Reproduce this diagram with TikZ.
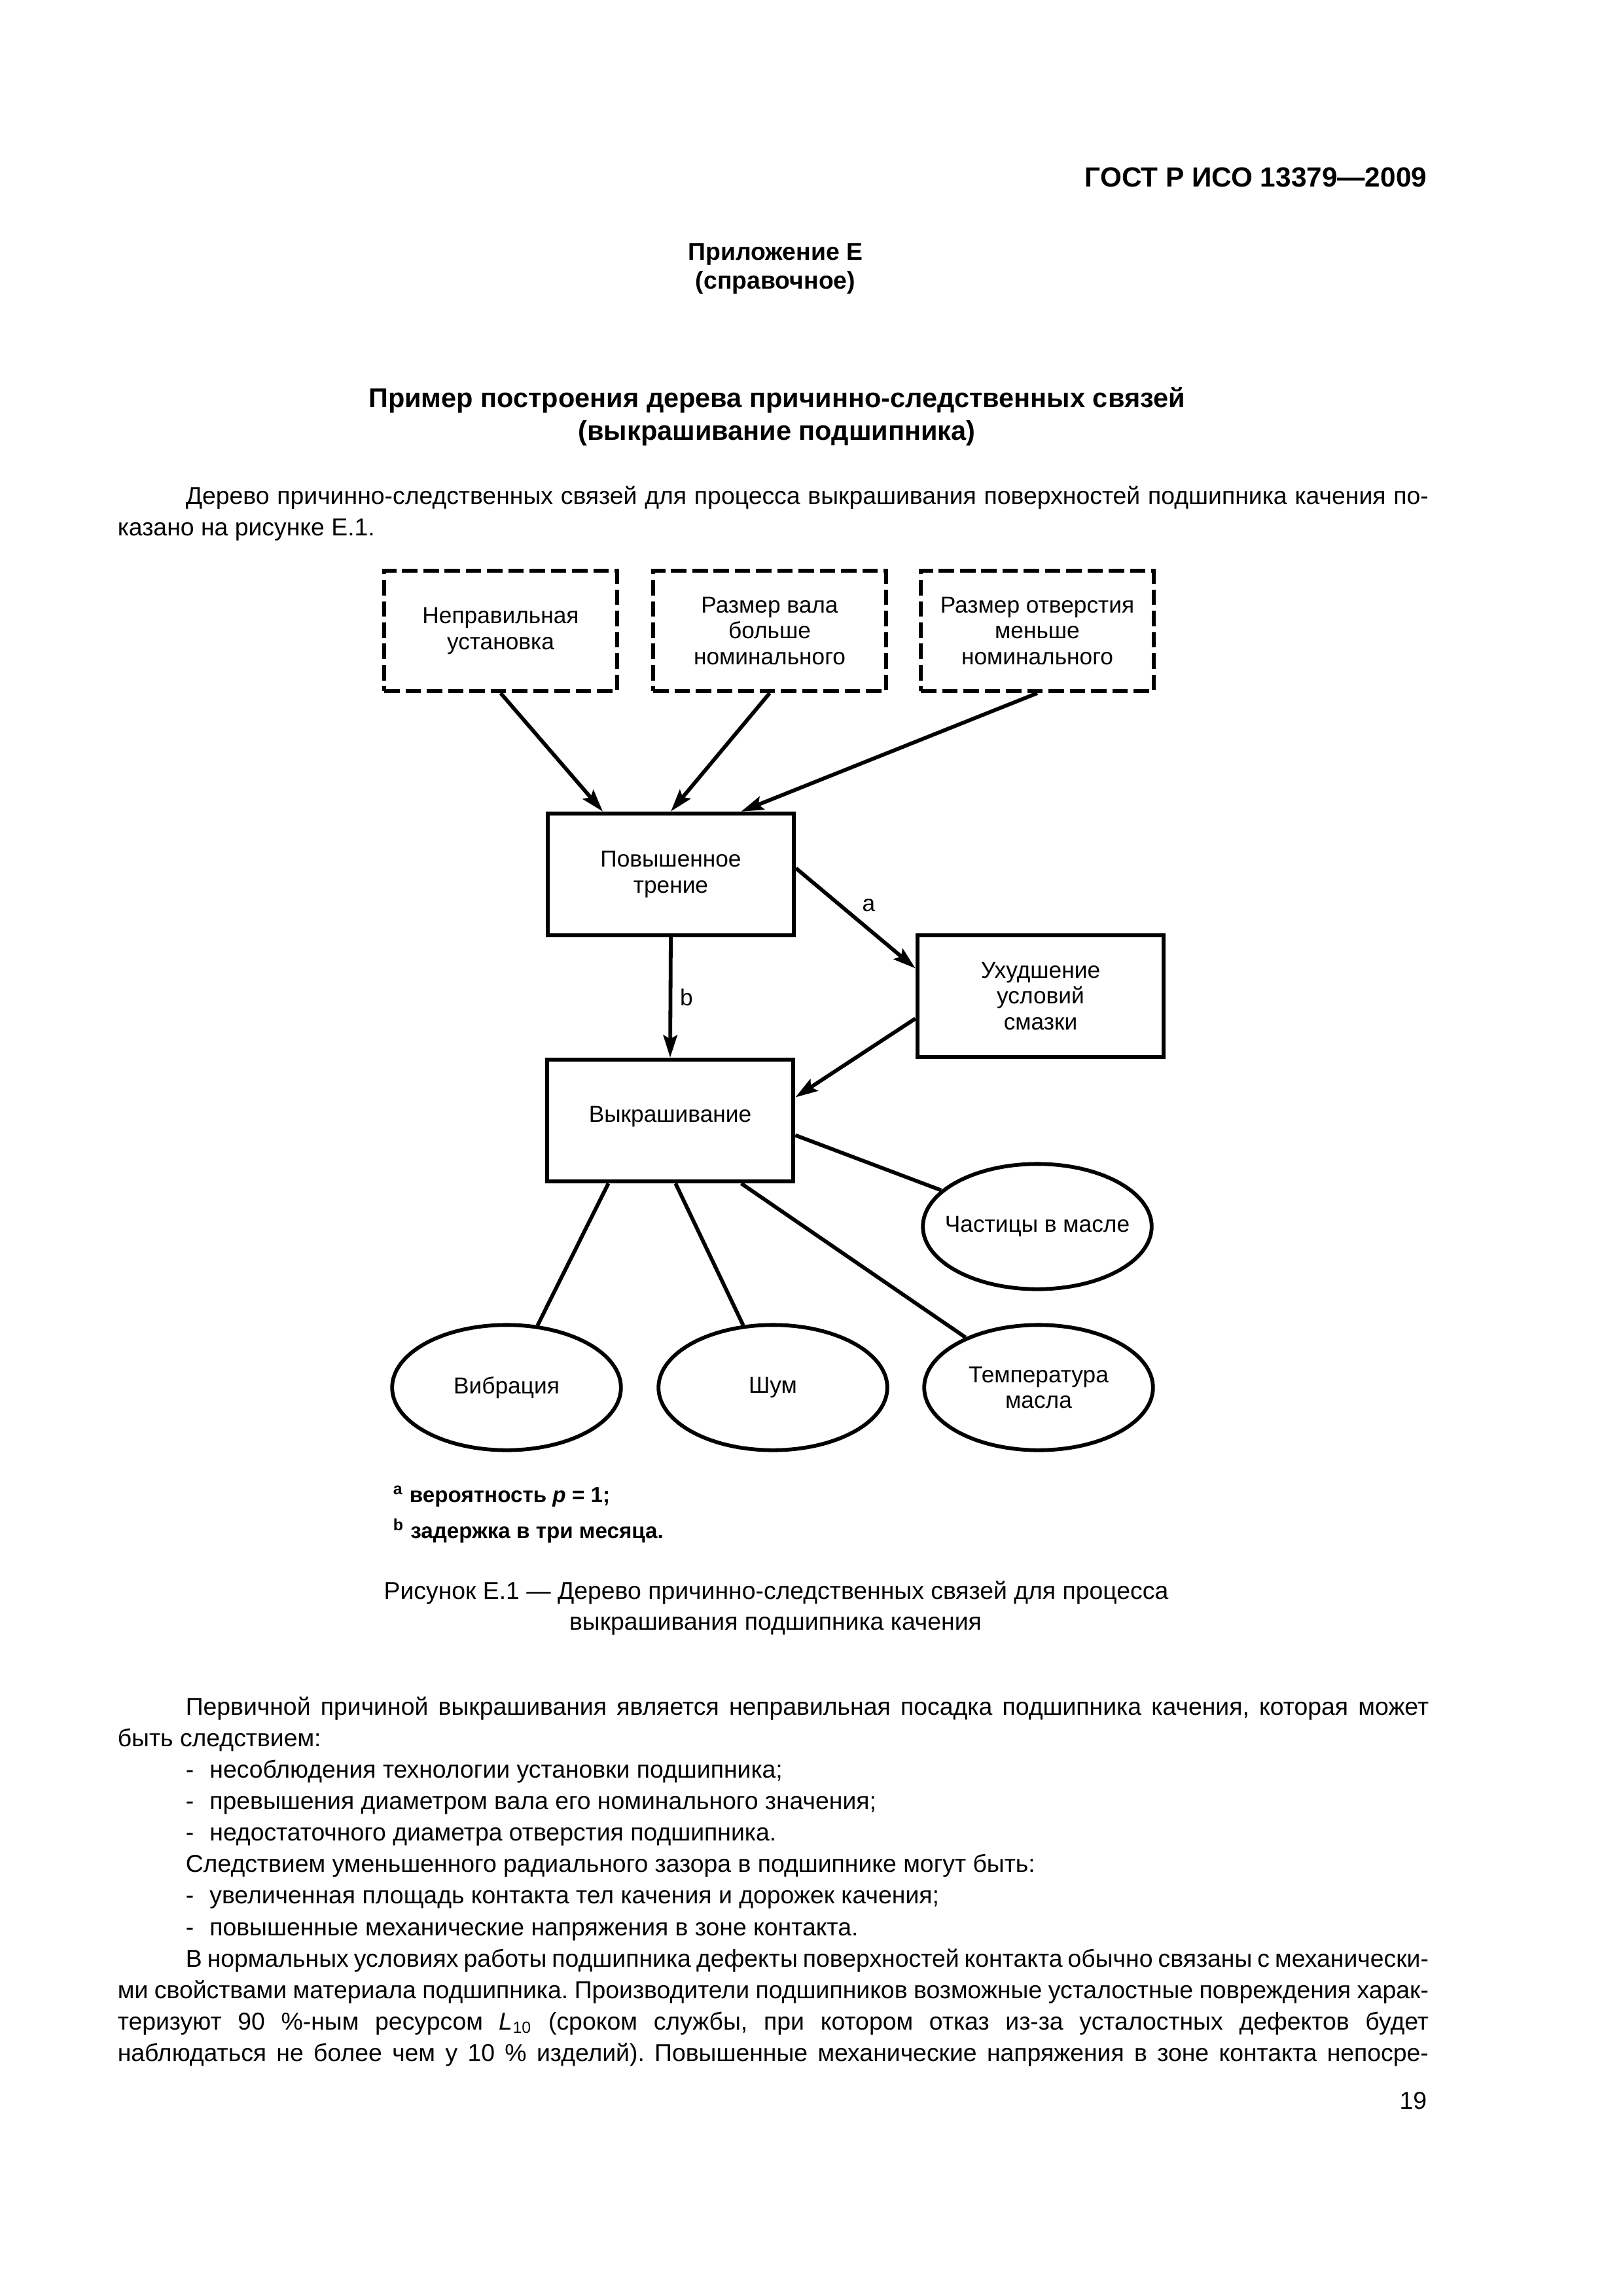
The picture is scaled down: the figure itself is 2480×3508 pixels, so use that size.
\documentclass[tikz,border=0pt]{standalone}
\usepackage{fontspec}
\setmainfont{Liberation Sans}
\usetikzlibrary{shapes.geometric,arrows.meta}
\frenchspacing
\newcommand{\bodyfont}{\fontsize{9}{11.6}\selectfont}
\newcommand{\diagfont}{\fontsize{8.5}{9.6}\selectfont}
\newcommand{\ind}{\hspace*{8.8mm}}
\newcommand{\bul}{\makebox[3.1mm][l]{-}}
\tikzset{
  cause/.style={draw, line width=1.4pt, dash pattern=on 2mm off 0.75mm, align=center,
    minimum width=30.1mm, minimum height=15.6mm, inner sep=0pt, font=\diagfont},
  event/.style={draw, line width=1.4pt, align=center, minimum width=31.9mm,
    minimum height=15.8mm, inner sep=0pt, font=\diagfont},
  effect/.style={ellipse, draw, line width=1.4pt, align=center, minimum width=29.6mm,
    minimum height=16.2mm, inner sep=0pt, font=\diagfont},
  link/.style={line width=1.4pt, -{Stealth[length=2.9mm,width=1.8mm,inset=0.5mm]}},
  tie/.style={line width=1.4pt},
  lbl/.style={font=\diagfont},
  body/.style={inner sep=0pt, text width=169.6mm, align=justify, font=\bodyfont},
  note/.style={inner sep=0pt, font=\fontsize{8}{9.6}\selectfont\bfseries},
}
\begin{document}
\begin{tikzpicture}[x=0.0846774mm, y=-0.0846774mm]
		% % Page
		 	\path[use as bounding box, fill=white] (0,0) rectangle (2480,3508);
		% % Heading and title
		 	\node[anchor=base east, inner sep=0pt, font=\fontsize{10.2}{12}\selectfont\bfseries] (gost) at (2181,285) {ГОСТ Р ИСО 13379—2009};
		 	\node[anchor=base, inner sep=0pt, font=\fontsize{9}{11}\selectfont\bfseries] (app) at (1185,397) {Приложение Е};
		 	\node[anchor=base, inner sep=0pt, font=\fontsize{9}{11}\selectfont\bfseries] (appkind) at (1185,441) {(справочное)};
		 	\node[anchor=base, inner sep=0pt, font=\fontsize{10}{12}\selectfont\bfseries] (title1) at (1187,622) {Пример построения дерева причинно-следственных связей};
		 	\node[anchor=base, inner sep=0pt, font=\fontsize{10}{12}\selectfont\bfseries] (title2) at (1187,672) {(выкрашивание подшипника)};
		% % Intro paragraph
		 	\node[body, anchor=base west] (intro) at (179,770) {\hyphenpenalty=10000\exhyphenpenalty=10000\tolerance=10000\frenchspacing
  		 		\ind Дерево причинно-следственных связей для процесса выкрашивания поверхностей подшипника качения по-\linebreak казано на рисунке Е.1.};
		% % Causes (dashed boxes)
		 	\node[cause] (nepr) at (765,964) {Неправильная\\установка};
		 	\node[cause] (vala) at (1176,964) {Размер вала\\больше\\номинального};
		 	\node[cause] (otv) at (1585,964) {Размер отверстия\\меньше\\номинального};
		% % Events
		 	\node[event] (pov) at (1025,1336) {Повышенное\\трение};
		 	\node[event] (uhud) at (1590,1522) {Ухудшение\\условий\\смазки};
		 	\node[event, text depth=1.7mm] (vyk) at (1024,1712) {Выкрашивание};
		% % Symptoms (ellipses)
		 	\node[effect, inner xsep=-1.7mm] (chast) at (1585,1874) {Частицы в масле};
		 	\node[effect] (vibr) at (774,2120) {Вибрация};
		 	\node[effect] (shum) at (1181,2120) {Шум};
		 	\node[effect] (temp) at (1587,2120) {Температура\\масла};
		% % Arrows
		 	\draw[link] (nepr.south) -- ([xshift=-8.8mm]pov.north);
		 	\draw[link] (vala.south) -- (pov.north);
		 	\draw[link] (otv.south) -- ([xshift=9.1mm]pov.north);
		 	\draw[link] ([yshift=0.8mm]pov.east) -- node[lbl, above right, inner sep=0.6mm] {a} ([yshift=3.6mm]uhud.west);
		 	\draw[link] (pov.south) -- node[lbl, right, inner sep=1mm] {b} (vyk.north);
		 	\draw[link] ([yshift=-2.9mm]uhud.west) -- ([yshift=3mm]vyk.east);
		% % Lines to symptoms
		 	\draw[tie] ([yshift=-1.9mm]vyk.east) -- (chast);
		 	\foreach \tgt/\dx in {vibr/-8mm, shum/0.7mm, temp/9.2mm}{
  		 		\draw[tie] ([xshift=\dx]vyk.south) -- (\tgt);
		 	}
		% % Notes and caption
		 	\node[note, anchor=base west] (fna) at (600,2295) {\textsuperscript{a} вероятность \textit{p} = 1;};
		 	\node[note, anchor=base west] (fnb) at (600,2350) {\textsuperscript{b} задержка в три месяца.};
		 	\node[anchor=base, inner sep=0pt, font=\bodyfont] (cap1) at (1186,2443) {Рисунок Е.1 — Дерево причинно-следственных связей для процесса};
		 	\node[anchor=base, inner sep=0pt, font=\bodyfont] (cap2) at (1185,2490) {выкрашивания подшипника качения};
		% % Text below the figure
		 	\node[body, anchor=base west] (txt) at (179,2620) {\hyphenpenalty=10000\exhyphenpenalty=10000\tolerance=10000\frenchspacing
  		 		\ind Первичной причиной выкрашивания является неправильная посадка подшипника качения, которая может\linebreak быть следствием:\par
  		 		\ind\bul несоблюдения технологии установки подшипника;\par
  		 		\ind\bul превышения диаметром вала его номинального значения;\par
  		 		\ind\bul недостаточного диаметра отверстия подшипника.\par
  		 		\ind Следствием уменьшенного радиального зазора в подшипнике могут быть:\par
  		 		\ind\bul увеличенная площадь контакта тел качения и дорожек качения;\par
  		 		\ind\bul повышенные механические напряжения в зоне контакта.\par
  		 		\ind В нормальных условиях работы подшипника дефекты поверхностей контакта обычно связаны с механически-\linebreak ми свойствами материала подшипника. Производители подшипников возможные усталостные повреждения харак-\linebreak теризуют 90~\%-ным ресурсом \textit{L}\textsubscript{10} (сроком службы, при котором отказ из-за усталостных дефектов будет\linebreak наблюдаться не более чем у 10~\% изделий). Повышенные механические напряжения в зоне контакта непосре-{\parfillskip=0pt\par}};
		% % Page number
		 	\node[anchor=base east, inner sep=0pt, font=\bodyfont] (pnum) at (2181,3222) {19};
\end{tikzpicture}
\end{document}
